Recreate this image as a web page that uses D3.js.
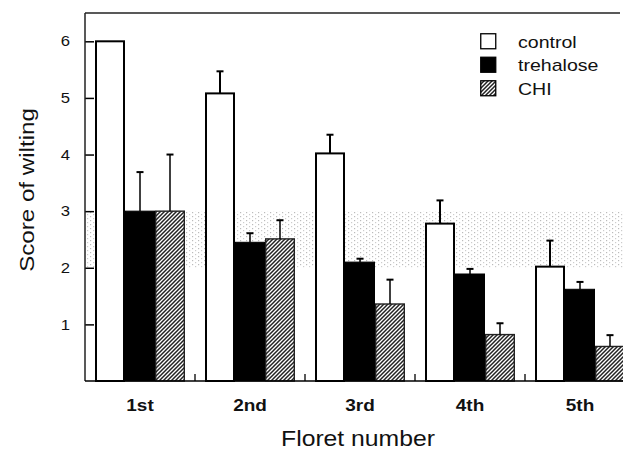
<!DOCTYPE html>
<html>
<head>
<meta charset="utf-8">
<script src="https://cdn.jsdelivr.net/npm/d3@7"></script>
<style>
  body { margin: 0; background: #fff; }
  text { font-family: "Liberation Sans", Arial, sans-serif; fill: #111; }
</style>
</head>
<body>
<div id="chart"></div>
<script>
// data
var categories = ['1st', '2nd', '3rd', '4th', '5th'];
var series = ['control', 'trehalose', 'CHI'];
var control      = [6.0, 5.08, 4.02, 2.78, 2.02];
var controlErr   = [0, 0.39, 0.33, 0.41, 0.46];
var trehalose    = [3.0, 2.45, 2.10, 1.89, 1.62];
var trehaloseErr = [0.69, 0.16, 0.06, 0.09, 0.13];
var chi          = [3.0, 2.51, 1.36, 0.82, 0.61];
var chiErr       = [1.0, 0.33, 0.43, 0.20, 0.20];
var yTicks = [1, 2, 3, 4, 5, 6];

var values = [control, trehalose, chi];
var errors = [controlErr, trehaloseErr, chiErr];

var width = 623, height = 450;
var plotLeft = 85, plotTop = 13, plotBottom = 381;

var svg = d3.select('#chart')
    .append('svg')
    .attr('width', width)
    .attr('height', height);

var defs = svg.append('defs');

// hatch for CHI
var hatch = defs.append('pattern')
    .attr('id', 'hatch')
    .attr('patternUnits', 'userSpaceOnUse')
    .attr('width', 4)
    .attr('height', 4);
hatch.append('rect').attr('width', 4).attr('height', 4).attr('fill', '#fff');
hatch.append('path')
    .attr('d', 'M-1,1 l2,-2 M0,4 l4,-4 M3,5 l2,-2')
    .attr('stroke', '#222')
    .attr('stroke-width', 1.5);

// scan-like stipple band
var dots = defs.append('pattern')
    .attr('id', 'dots')
    .attr('patternUnits', 'userSpaceOnUse')
    .attr('width', 6)
    .attr('height', 4);
dots.append('rect').attr('x', 0).attr('y', 0).attr('width', 1.2).attr('height', 1.2).attr('fill', '#777');
dots.append('rect').attr('x', 3).attr('y', 2).attr('width', 1.2).attr('height', 1.2).attr('fill', '#999');

var x0 = d3.scaleBand()
    .domain(categories)
    .range([plotLeft, 635])
    .paddingInner(2 / 11)
    .paddingOuter(1 / 11);

var x1 = d3.scaleBand()
    .domain(series)
    .range([0, x0.bandwidth()]);

var y = d3.scaleLinear()
    .domain([0, 6.5])
    .range([plotBottom, plotTop]);

// stipple band between 2 and 3
svg.append('rect')
    .attr('x', plotLeft)
    .attr('y', y(3))
    .attr('width', width - plotLeft)
    .attr('height', y(2) - y(3))
    .attr('fill', 'url(#dots)')
    .attr('opacity', 0.5);

// frame line on top
svg.append('line')
    .attr('x1', plotLeft).attr('x2', 620)
    .attr('y1', plotTop).attr('y2', plotTop)
    .style('stroke', '#222').style('stroke-width', '1.3px');

// bars
var fills = ['#fff', '#000', 'url(#hatch)'];
var strokes = ['#000', '#000', '#222'];
var strokeW = [2, 1, 1.4];

series.forEach(function(s, si) {
    var g = svg.append('g');
    g.selectAll('rect')
        .data(categories)
        .enter()
        .append('rect')
        .attr('x', function(c) { return x0(c) + x1(s) + strokeW[si] / 2; })
        .attr('y', function(c, i) { return y(values[si][i]); })
        .attr('width', x1.bandwidth() - strokeW[si])
        .attr('height', function(c, i) { return plotBottom - y(values[si][i]); })
        .style('fill', fills[si])
        .style('stroke', strokes[si])
        .style('stroke-width', strokeW[si] + 'px');

    // error bars, upper only
    var eb = g.selectAll('g.err')
        .data(categories.filter(function(c, i) { return errors[si][i] > 0; }))
        .enter()
        .append('g');
    var cx = function(c) { return x0(c) + x1(s) + x1.bandwidth() / 2; };
    var v = function(c) { return values[si][categories.indexOf(c)]; };
    var e = function(c) { return errors[si][categories.indexOf(c)]; };
    eb.append('line')
        .attr('x1', cx).attr('x2', cx)
        .attr('y1', function(c) { return y(v(c)); })
        .attr('y2', function(c) { return y(v(c) + e(c)); })
        .style('stroke', '#000')
        .style('stroke-width', si === 0 ? '2px' : '1.5px');
    eb.append('line')
        .attr('x1', function(c) { return cx(c) - 3.5; })
        .attr('x2', function(c) { return cx(c) + 3.5; })
        .attr('y1', function(c) { return y(v(c) + e(c)); })
        .attr('y2', function(c) { return y(v(c) + e(c)); })
        .style('stroke', '#000')
        .style('stroke-width', '2px');
});

// y axis, ticks pointing inward
var yAxis = svg.append('g')
    .attr('transform', 'translate(' + plotLeft + ',0)')
    .call(d3.axisLeft(y).tickValues(yTicks).tickFormat(d3.format('d'))
        .tickSize(-9).tickSizeOuter(0).tickPadding(15));
yAxis.select('.domain').remove();
yAxis.selectAll('.tick line').style('stroke', '#000').style('stroke-width', '1.5px');
yAxis.selectAll('.tick text')
    .style('font-size', '14.5px')
    .style('font-family', '"Liberation Sans", Arial, sans-serif')
    .attr('fill', '#111');

svg.append('line')
    .attr('x1', plotLeft).attr('x2', plotLeft)
    .attr('y1', plotTop).attr('y2', plotBottom)
    .style('stroke', '#222').style('stroke-width', '1.5px');

// x axis
var xAxis = svg.append('g')
    .attr('transform', 'translate(0,' + plotBottom + ')')
    .call(d3.axisBottom(x0).tickSize(0).tickPadding(18));
xAxis.select('.domain').remove();
xAxis.selectAll('.tick text')
    .style('font-size', '16.5px')
    .style('font-weight', 'bold')
    .style('font-family', '"Liberation Sans", Arial, sans-serif')
    .attr('fill', '#111');

svg.append('line')
    .attr('x1', plotLeft).attr('x2', width)
    .attr('y1', plotBottom).attr('y2', plotBottom)
    .style('stroke', '#000').style('stroke-width', '1.5px');

// small ticks between floret groups
var gap = x0.step() * x0.paddingInner();
svg.selectAll('line.sep')
    .data(categories.slice(1))
    .enter()
    .append('line')
    .attr('x1', function(c) { return x0(c) - gap / 2; })
    .attr('x2', function(c) { return x0(c) - gap / 2; })
    .attr('y1', plotBottom)
    .attr('y2', plotBottom - 7)
    .style('stroke', '#000')
    .style('stroke-width', '1.3px');

// legend
var legend = svg.append('g').attr('transform', 'translate(480,33)');
series.forEach(function(s, i) {
    legend.append('rect')
        .attr('x', 0.75)
        .attr('y', i * 23.5 + 0.75)
        .attr('width', 15)
        .attr('height', 15)
        .style('fill', fills[i])
        .style('stroke', '#000')
        .style('stroke-width', '1.3px');
    legend.append('text')
        .attr('x', 38)
        .attr('y', i * 23.5 + 14.5)
        .style('font-size', '17px')
        .text(s);
});

// axis titles
svg.append('text')
    .attr('transform', 'translate(34,190) rotate(-90)')
    .attr('text-anchor', 'middle')
    .style('font-size', '21px')
    .text('Score of wilting');

svg.append('text')
    .attr('x', 358)
    .attr('y', 446)
    .attr('text-anchor', 'middle')
    .style('font-size', '21.5px')
    .text('Floret number');

// the scan is a little wider than tall: stretch text widths
svg.selectAll('text').each(function() {
    var len = this.getComputedTextLength();
    d3.select(this).attr('textLength', len * 1.15).attr('lengthAdjust', 'spacingAndGlyphs');
});
</script>
</body>
</html>
